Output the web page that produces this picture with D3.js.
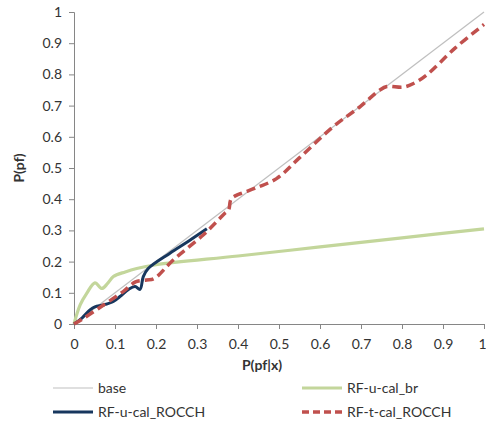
<!DOCTYPE html>
<html><head><meta charset="utf-8">
<script src="https://cdn.jsdelivr.net/npm/d3@7"></script>
<style>body{margin:0;background:#fff}svg{display:block}text{font-family:Lato,"Open Sans",sans-serif;fill:#333}</style>
</head><body><svg id="c" width="486" height="421"></svg>
<script>
const xTicks = [0,0.1,0.2,0.3,0.4,0.5,0.6,0.7,0.8,0.9,1];
const yTicks = [0,0.1,0.2,0.3,0.4,0.5,0.6,0.7,0.8,0.9,1];
const tickLabels = ["0","0.1","0.2","0.3","0.4","0.5","0.6","0.7","0.8","0.9","1"];
const seriesNames = ["base","RF-u-cal_br","RF-u-cal_ROCCH","RF-t-cal_ROCCH"];
const baseX = [0,1];
const baseY = [0,1];
const brX = [0,0.015,0.031,0.051,0.068,0.082,0.096,0.125,0.153,0.2,0.4,0.6,0.8,1];
const brY = [0,0.061,0.098,0.132,0.114,0.130,0.152,0.167,0.178,0.19,0.218,0.247,0.276,0.305];
const uRoX = [0,0.02,0.039,0.051,0.072,0.096,0.112,0.133,0.149,0.161,0.169,0.181,0.234,0.28,0.324];
const uRoY = [0,0.02,0.045,0.055,0.061,0.072,0.088,0.111,0.120,0.111,0.152,0.178,0.227,0.266,0.305];
const tRoX = [0,0.023,0.072,0.12,0.15,0.177,0.195,0.242,0.315,0.348,0.368,0.377,0.383,0.397,0.413,0.445,0.494,0.551,0.632,0.698,0.746,0.763,0.803,0.828,0.86,0.93,1];
const tRoY = [0,0.018,0.061,0.104,0.135,0.141,0.145,0.205,0.285,0.328,0.355,0.365,0.400,0.413,0.421,0.437,0.466,0.534,0.632,0.697,0.75,0.761,0.759,0.771,0.798,0.885,0.96];

const svg = d3.select("#c");
const x = d3.scaleLinear().domain([0,1]).range([74,484]);
const y = d3.scaleLinear().domain([0,1]).range([324,12]);
const axisColor = "#868686";

const gx = svg.append("g").attr("transform","translate(0,324)")
  .call(d3.axisBottom(x).tickValues(xTicks).tickFormat((d,i)=>tickLabels[i]).tickSize(5).tickPadding(10));
const gy = svg.append("g").attr("transform","translate(74,0)")
  .call(d3.axisLeft(y).tickValues(yTicks).tickFormat((d,i)=>tickLabels[i]).tickSize(5).tickPadding(7));
[gx,gy].forEach(g=>{
  g.select(".domain").attr("stroke",axisColor).attr("stroke-width",1);
  g.selectAll(".tick line").attr("stroke",axisColor);
  g.selectAll(".tick text").attr("font-size",14).attr("fill","#333").attr("font-family","Lato, 'Open Sans', sans-serif");
});
gx.selectAll(".tick text").filter(d=>d===1).attr("dx",-2);

const line = (xs,ys,curve) => d3.line().x(d=>x(d[0])).y(d=>y(d[1])).curve(curve)(xs.map((v,i)=>[v,ys[i]]));
const smooth = d3.curveCatmullRom.alpha(0.5);

svg.append("path").attr("d",line(baseX,baseY,d3.curveLinear)).attr("fill","none").attr("stroke","#bfbfbf").attr("stroke-width",1.2);
svg.append("path").attr("d",line(brX,brY,smooth)).attr("fill","none").attr("stroke","#c3d69b").attr("stroke-width",3.2);
svg.append("path").attr("d",line(uRoX,uRoY,smooth)).attr("fill","none").attr("stroke","#17375e").attr("stroke-width",3);
svg.append("path").attr("d",line(tRoX,tRoY,smooth)).attr("fill","none").attr("stroke","#c0504d").attr("stroke-width",3.5).attr("stroke-dasharray","9,5");

svg.append("text").attr("x",262).attr("y",370).attr("text-anchor","middle").attr("font-size",14).attr("font-weight","bold").text("P(pf|x)");
svg.append("text").attr("transform","translate(24,168) rotate(-90)").attr("text-anchor","middle").attr("font-size",14).attr("font-weight","bold").text("P(pf)");

const legend = [
  {name:seriesNames[0], x:53, y:388, color:"#bfbfbf", w:1.2, dash:null},
  {name:seriesNames[1], x:302, y:388, color:"#c3d69b", w:3.2, dash:null},
  {name:seriesNames[2], x:53, y:412, color:"#17375e", w:3, dash:null},
  {name:seriesNames[3], x:302, y:412, color:"#c0504d", w:3.5, dash:"7,4"}
];
legend.forEach(l=>{
  const ln = svg.append("line").attr("x1",l.x).attr("x2",l.x+40).attr("y1",l.y).attr("y2",l.y).attr("stroke",l.color).attr("stroke-width",l.w);
  if(l.dash) ln.attr("stroke-dasharray",l.dash);
  svg.append("text").attr("x",l.x+45).attr("y",l.y+5).attr("font-size",14).text(l.name);
});
</script></body></html>
